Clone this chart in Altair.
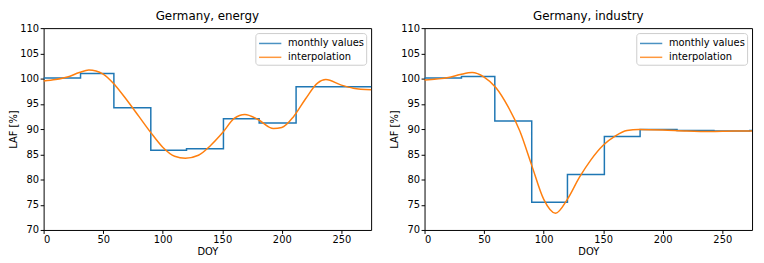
import altair as alt
import pandas as pd

# month start days (0-based DOY) and an end point
month_start = [0, 31, 59, 90, 120, 151, 181, 212, 243, 273, 275]

energy_monthly = [100.1, 101.0, 94.2, 85.8, 86.1, 92.05, 91.2, 98.4, 98.4, 98.4, 98.4]
industry_monthly = [100.1, 100.4, 91.6, 75.5, 81.0, 88.5, 89.9, 89.7, 89.6, 89.7, 89.7]

energy_doy = [0, 10, 20, 30, 38, 50, 60, 70, 80, 90, 100, 110, 119, 130, 140, 150, 160,
              169, 180, 193, 200, 210, 220, 230, 237, 250, 260, 275]
energy_interp = [99.5, 99.8, 100.3, 101.2, 101.7, 100.9, 98.7, 95.7, 92.5, 89.3, 86.4, 84.6,
                 84.2, 84.8, 86.7, 89.2, 92.1, 92.9, 91.9, 90.1, 90.3, 92.5, 96.0, 99.1,
                 99.8, 98.7, 98.1, 97.8]

industry_doy = [0, 10, 20, 30, 40, 50, 60, 70, 80, 90, 100, 110, 120, 130, 140, 150, 160,
                170, 180, 200, 220, 240, 260, 275]
industry_interp = [99.7, 99.9, 100.2, 100.8, 101.2, 100.3, 98.2, 94.5, 89.6, 82.8, 76.1, 73.3,
                   76.1, 80.4, 84.0, 86.8, 88.6, 89.7, 89.9, 89.8, 89.6, 89.5, 89.6, 89.6]

SERIES = ["monthly values", "interpolation"]
COLORS = ["#1f77b4", "#ff7f0e"]


def panel(title, monthly, idoy, ival):
    df_m = pd.DataFrame({"DOY": month_start, "LAF": monthly, "series": SERIES[0]})
    df_i = pd.DataFrame({"DOY": idoy, "LAF": ival, "series": SERIES[1]})
    x = alt.X("DOY:Q", scale=alt.Scale(domain=[0, 275], nice=False, zero=False),
              axis=alt.Axis(values=[0, 50, 100, 150, 200, 250], title="DOY"))
    y = alt.Y("LAF:Q", scale=alt.Scale(domain=[70, 110], nice=False, zero=False),
              axis=alt.Axis(values=list(range(70, 111, 5)), title="LAF [%]"))
    color = alt.Color("series:N", scale=alt.Scale(domain=SERIES, range=COLORS),
                      legend=alt.Legend(title=None, orient="top-right", offset=5))
    m = alt.Chart(df_m).mark_line(interpolate="step-after", strokeWidth=1.5).encode(
        x=x, y=y, color=color)
    i = alt.Chart(df_i).mark_line(interpolate="monotone", strokeWidth=1.5).encode(
        x=x, y=y, color=color)
    return alt.layer(m, i).properties(
        width=331, height=204,
        title=alt.TitleParams(title, fontSize=12, fontWeight="normal", offset=0,
                              font="DejaVu Sans", color="black"))


left = panel("Germany, energy", energy_monthly, energy_doy, energy_interp)
right = panel("Germany, industry", industry_monthly, industry_doy, industry_interp)

chart = alt.hconcat(left, right, spacing=14).resolve_scale(
    color="independent"
).resolve_legend(color="independent").properties(
    padding=0
).configure(font="DejaVu Sans").configure_view(
    stroke="black", strokeWidth=1
).configure_axis(
    grid=False, domain=False, tickColor="black", tickSize=3.5, labelPadding=1.5,
    labelFontSize=10, titleFontSize=10, titleFontWeight="normal",
    labelColor="black", titleColor="black", titlePadding=1
).configure_axisX(titlePadding=2).configure_legend(
    fillColor="white", strokeColor="#cccccc", cornerRadius=3, padding=2,
    symbolType="M-0.9,0H2.1", symbolSize=225, symbolStrokeWidth=1.5, labelFontSize=10,
    labelColor="black", rowPadding=0, labelOffset=14, symbolOpacity=0.8
)

chart.save("out.html", embed_options={"renderer": "svg", "actions": False})
